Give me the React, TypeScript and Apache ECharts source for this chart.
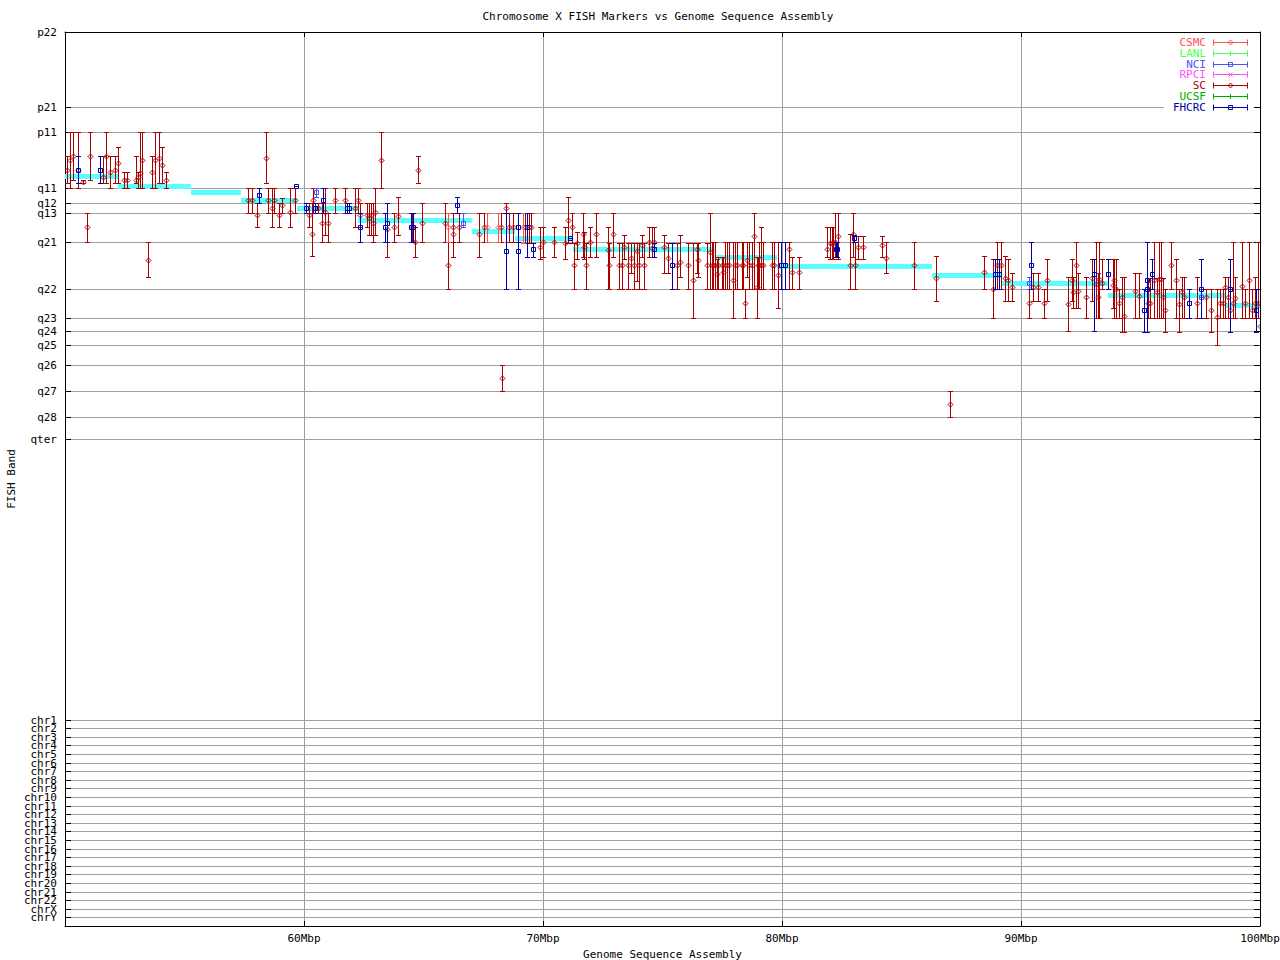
import React, { useEffect, useRef } from 'react';
import * as echarts from 'echarts';

const TITLE = 'Chromosome X FISH Markers vs Genome Sequence Assembly';
const X_NAME = 'Genome Sequence Assembly';
const Y_NAME = 'FISH Band';
const X_MIN = 50;
const X_MAX = 100;
const X_STEP = 10;

// cytogenetic band / chromosome tick labels and their positions on the band scale
const BAND_LABELS = [
  'p22', 'p21', 'p11', 'q11', 'q12', 'q13', 'q21', 'q22', 'q23', 'q24', 'q25', 'q26', 'q27', 'q28', 'qter',
  'chr1', 'chr2', 'chr3', 'chr4', 'chr5', 'chr6', 'chr7', 'chr8', 'chr9', 'chr10', 'chr11', 'chr12',
  'chr13', 'chr14', 'chr15', 'chr16', 'chr17', 'chr18', 'chr19', 'chr20', 'chr21', 'chr22', 'chrX', 'chrY',
];
const BAND_POS = [
  0.7, 75.3, 100.3, 156.3, 171.3, 181.3, 210.3, 257.3, 286.3, 299.3, 313.3, 333.3, 359.3, 385.3, 407.7,
  688.3, 696.3, 705.3, 713.3, 722, 731, 739, 748, 756.3, 765.3, 774.3, 782.3,
  791.3, 799.7, 808.3, 817, 825.3, 834, 842, 851, 860.3, 868.3, 877.3, 885.3,
];
const Y_MAX = 894;

// assembly band steps: [start Mbp, end Mbp, band]
const ASSEMBLY_STEPS = [
  [50.0, 52.22, 144], [52.22, 55.27, 153.7], [55.27, 57.36, 160], [57.36, 59.71, 168],
  [59.71, 62.25, 175.7], [62.25, 67.02, 187.7], [67.02, 68.83, 199], [68.83, 71.26, 205.7],
  [71.26, 77.18, 216.7], [77.18, 79.79, 225], [79.79, 86.28, 233.7], [86.28, 89.19, 243],
  [89.19, 93.64, 250.7], [93.64, 98.54, 263], [98.54, 100, 273],
];

// markers: [Mbp, band top, band mid, band bottom]
const SC = [
  [50.07, 124, 138, 151.3], [50.21, 100.3, 128, 156.3], [50.35, 100.3, 124, 148], [50.56, 100.3, 138, 156.3],
  [50.77, 148, 150.3, 151.3], [50.93, 181.3, 195.3, 210.3], [51.05, 100.3, 124, 148], [51.60, 124, 145.3, 151.3],
  [51.72, 100.3, 124, 151.3], [51.88, 124, 140.3, 156.3], [52.09, 124, 138, 151.3], [52.23, 115.3, 131.3, 151.3],
  [52.47, 139.7, 148, 156.3], [52.61, 139.7, 148, 156.3], [52.97, 124, 148, 151.3], [53.07, 139.7, 144.7, 156.3],
  [53.14, 100.3, 140.7, 156.3], [53.21, 100.3, 128, 156.3], [53.49, 210.3, 228, 245.3], [53.63, 124, 140.3, 156.3],
  [53.77, 100.3, 128, 156.3], [53.95, 100.3, 125.7, 151.3], [54.05, 115.3, 133, 151.3], [54.21, 139.7, 148, 156.3],
  [57.67, 156.3, 168, 181.3], [57.84, 156.3, 168, 181.3], [58.05, 171.3, 183, 195.3], [58.41, 100.3, 126.3, 151.3],
  [58.51, 156.3, 168, 181.3], [58.67, 156.3, 176.3, 195.3], [58.74, 156.3, 168, 181.3], [58.97, 171.3, 183, 195.3],
  [59.09, 165.7, 173, 181.3], [59.41, 156.3, 180.3, 195.3], [59.61, 156.3, 168, 181.3], [60.22, 171.3, 183, 195.3],
  [60.35, 171.3, 202.3, 224], [60.39, 156.3, 168, 181.3], [60.60, 171.3, 175.7, 181.3], [60.74, 171.3, 191.3, 210.3],
  [60.88, 156.3, 180.3, 203], [61.02, 181.3, 190.7, 210.3],
  [61.31, 156.3, 168.3, 181.3], [61.73, 156.3, 168.3, 181.3], [62.15, 156.3, 176.3, 195.3], [62.25, 156.3, 168.3, 181.3],
  [62.36, 171.3, 183, 195.3], [62.62, 171.3, 183, 195.3], [62.73, 171.3, 186.3, 203], [62.79, 171.3, 183, 203],
  [62.90, 171.3, 191.3, 210.3], [62.98, 156.3, 179.7, 203], [63.23, 100.3, 128, 156.3], [63.49, 171.3, 197.3, 224.7],
  [63.77, 181.3, 195.3, 210.3], [63.95, 165.3, 184.3, 203], [64.52, 181.3, 195.3, 210.3], [64.66, 195.3, 210.3, 224.7],
  [64.78, 124.3, 138.3, 151.3], [64.95, 171.3, 191.3, 210.3], [65.91, 171.3, 191.3, 210.3], [66.04, 181.3, 233.3, 257.3],
  [66.22, 181.3, 202, 224.7], [66.25, 181.3, 195.3, 210.3], [66.50, 181.3, 195.3, 210.3], [67.34, 181.3, 202, 224.7],
  [67.54, 181.3, 195.3, 210.3], [68.24, 181.3, 195.3, 210.3], [68.30, 333.3, 346.3, 359], [68.46, 171.3, 176.3, 181.3],
  [68.59, 181.3, 195.3, 210.3], [68.76, 181.3, 195.3, 210.3],
  [69.25, 181.3, 195.3, 210.7], [69.40, 181.3, 195.3, 210.7], [69.50, 181.3, 195.3, 210.7], [69.88, 195.3, 215.3, 227],
  [70.02, 195.3, 210.3, 224.7], [70.48, 195.3, 210.3, 224.7], [70.92, 195.3, 211.3, 227], [71.06, 165.3, 188, 210.7],
  [71.20, 181.3, 195.3, 210.7], [71.31, 210.7, 233.3, 257.3], [71.44, 200.3, 211.3, 227], [71.66, 181.3, 202.3, 224.7],
  [71.73, 200.3, 215.3, 227], [71.80, 210.7, 233.3, 257.3], [71.97, 195.3, 210.3, 224.7], [72.23, 181.3, 202.3, 224.7],
  [72.71, 195.3, 218, 257.3], [72.75, 210.7, 233.3, 257.3], [72.94, 181.3, 202.3, 224.7], [73.20, 210.7, 233.3, 257.3],
  [73.29, 210.7, 233.3, 257.3], [73.40, 203, 215.3, 227], [73.57, 210.7, 233.3, 257.3], [73.68, 210.7, 226.3, 241.3],
  [73.82, 210.7, 233.3, 257.3], [73.92, 210.7, 219, 249], [74.02, 210.7, 233.3, 257.3], [74.13, 203, 213, 224.7],
  [74.24, 210.7, 233.3, 257.3], [74.45, 195.3, 210.3, 224.7], [74.55, 195.3, 216.3, 224.7], [74.66, 195.3, 210.3, 224.7],
  [75.08, 203, 215.3, 241.3], [75.25, 210.7, 226.3, 241.3], [75.59, 210.7, 233.3, 257.3], [75.73, 203, 229.7, 244.7],
  [76.08, 210.7, 233.3, 257.3], [76.29, 210.7, 248.3, 286.3], [76.43, 210.7, 217, 241.3], [76.50, 210.7, 228.3, 245.3],
  [76.85, 210.7, 233.3, 257.3], [76.99, 181.3, 219.7, 257.3],
  [77.06, 210.3, 233.3, 257.3], [77.13, 210.3, 233.3, 257.3], [77.20, 210.3, 233.3, 257.3], [77.27, 227.3, 242.3, 257.3],
  [77.34, 224.7, 233.3, 257.3], [77.48, 224.7, 233.3, 257.3], [77.55, 224.7, 240, 257.3], [77.62, 210.3, 233.3, 257.3],
  [77.69, 210.3, 233.3, 257.3], [77.80, 210.3, 233.3, 257.3], [77.96, 210.3, 248.3, 286.3], [78.03, 210.3, 233.3, 257.3],
  [78.10, 210.3, 233.3, 257.3], [78.31, 210.3, 233.3, 257.3], [78.38, 210.3, 233.3, 257.3], [78.47, 257.3, 271.3, 286.3],
  [78.55, 210.3, 228.3, 244.7], [78.63, 210.3, 233.3, 257.3], [78.73, 210.3, 233.3, 257.3], [78.84, 181.3, 204.3, 257.3],
  [78.94, 224.7, 255, 286.3], [79.01, 224.7, 233.3, 257.3], [79.05, 210.3, 233.3, 257.3], [79.11, 195.3, 233.3, 257.3],
  [79.19, 210.3, 233.3, 257.3], [79.57, 210.3, 233.3, 257.3], [79.67, 210.3, 233.3, 257.3], [79.85, 210.3, 243, 276.3],
  [80.31, 210.3, 217.3, 257.3], [80.41, 224.7, 240.3, 257.3], [80.73, 224.7, 240.3, 257.3], [81.87, 195.3, 217.3, 224.7],
  [82.01, 195.3, 211, 227.3], [82.08, 195.3, 211, 227.3], [82.15, 195.3, 211, 227.3], [82.22, 181.3, 210.3, 224.7],
  [82.36, 181.3, 204.3, 227.3], [82.85, 202, 233.3, 257.3], [82.96, 181.3, 202.3, 224.7], [83.07, 210.3, 233.3, 257.3],
  [83.20, 203.7, 215.3, 227.3], [83.40, 203.7, 215.3, 227.3], [84.20, 203.7, 213.3, 224.7], [84.34, 210.3, 226.3, 241.3],
  [85.54, 210.3, 233.3, 257.3], [86.46, 224.3, 246.3, 269.3], [87.05, 359.3, 372.3, 385.3], [88.47, 224.3, 240.3, 257.3],
  [88.84, 227.3, 257.3, 286.3], [88.98, 210.3, 233.3, 257.3], [89.16, 210.3, 233.3, 257.3], [89.33, 224.3, 246.3, 269.3],
  [89.44, 227.3, 248.3, 269.3], [89.64, 241.3, 255.3, 269.3], [90.35, 257.3, 271.3, 286.3], [90.52, 241.3, 255.3, 269.3],
  [90.70, 241.3, 255.3, 269.3], [90.98, 257.3, 271.3, 286.3], [91.10, 227.3, 248.3, 269.3], [91.98, 245.3, 272.3, 299.3],
  [92.12, 227.3, 248.3, 269.3], [92.16, 245.3, 259.7, 276.3], [92.32, 210.3, 233.3, 276.3], [92.37, 241.3, 259.3, 276.3],
  [92.72, 245.3, 265.3, 286.3], [92.96, 227.3, 246.3, 269.3], [93.14, 210.3, 252.3, 286.3], [93.24, 241.3, 265.3, 286.3],
  [93.28, 210.3, 247.3, 286.3], [93.38, 227.3, 250.7, 257.3], [93.83, 227.3, 253, 276.3], [93.91, 227.3, 248, 286.3],
  [93.98, 227.3, 257, 286.3], [94.08, 257.3, 271.3, 286.3], [94.22, 245.3, 265, 299.7], [94.30, 245.3, 284, 299.7],
  [94.77, 241.3, 259, 286.3], [94.95, 241.3, 264.3, 286.3], [95.33, 246.3, 271.3, 286.3], [95.40, 246.3, 271.3, 286.3],
  [95.58, 210.3, 248, 286.3], [95.68, 246.3, 260.3, 286.3], [95.79, 210.3, 247.3, 286.3], [95.86, 210.3, 247.3, 286.3],
  [95.93, 246.3, 265, 286.3], [96.03, 257.3, 278.3, 299.7], [96.29, 210.3, 233.3, 257.3], [96.49, 227.3, 248.3, 286.3],
  [96.59, 257.3, 272.3, 299.7], [96.75, 245.3, 260.3, 286.3], [96.84, 245.3, 265, 286.3], [97.35, 245.3, 271.3, 286.3],
  [97.76, 257.3, 265, 286.3], [97.95, 257.3, 278.3, 299.7], [98.19, 257.3, 285, 313], [98.33, 257.3, 271.3, 286.3],
  [98.47, 257.3, 271.3, 286.3], [98.54, 245.3, 255.3, 286.3], [98.65, 245.3, 265, 286.3], [98.75, 257.3, 278.3, 299.7],
  [98.85, 210.3, 271.3, 286.3], [98.96, 245.3, 266.3, 286.3], [99.26, 210.3, 254.3, 286.3], [99.39, 257.3, 271.3, 286.3],
  [99.54, 210.3, 248.3, 286.3], [99.66, 257.3, 278.3, 286.3], [99.77, 245.3, 271.3, 286.3], [99.93, 210.3, 271.3, 286.3],
  [99.99, 286.3, 294, 313],
];
const FHCRC = [
  [50.56, 124, 138, 151.3], [51.46, 124, 138, 151.3], [58.13, 156.3, 163, 171.3], [59.68, 153.7, 153.7, 153.7],
  [60.08, 171.3, 175.7, 181.3], [60.46, 171.3, 175.7, 181.3], [60.81, 156.3, 168, 181.3], [61.81, 171.3, 176.3, 181.3],
  [61.90, 171.3, 176.3, 181.3], [62.36, 181.3, 195.3, 210.3], [63.40, 181.3, 195.3, 210.3], [63.49, 171.3, 191.3, 210.3],
  [64.46, 181.3, 195.3, 210.3], [64.57, 181.3, 195.3, 210.3], [66.42, 165.3, 173.3, 181.3], [68.46, 181.3, 219.3, 257.3],
  [68.95, 181.3, 195.3, 210.3], [68.97, 181.3, 219, 257.3], [69.32, 181.3, 195.3, 224.7], [69.60, 210.7, 217.3, 224.7],
  [71.13, 205.7, 205.7, 205.7], [74.66, 210.7, 217, 224.7], [75.41, 210.7, 233.3, 257.3], [79.95, 210.3, 233.3, 257.3],
  [80.13, 210.3, 233.3, 257.3], [82.26, 210.3, 217.3, 224.7], [82.31, 210.3, 217.3, 224.7], [83.03, 203, 206, 210.3],
  [88.91, 227.3, 242.3, 257.3], [89.08, 227.3, 242.3, 257.3], [90.43, 210.3, 233.3, 257.3], [93.07, 227.3, 242.3, 299.3],
  [93.62, 227.3, 242.3, 257.3], [95.16, 257.3, 278.3, 299.7], [95.26, 210.3, 257.3, 299.7], [95.29, 210.3, 248.3, 257.3],
  [95.50, 227.3, 242.3, 257.3], [97.01, 257.3, 271.3, 286.3], [97.55, 227.3, 257.3, 286.3], [98.76, 227.3, 257.3, 299.7],
  [99.85, 257.3, 278.3, 299.7],
];
const CSMC = [
  [66.04, 181.3, 195.3, 210.3], [67.64, 181.3, 195.3, 210.3], [68.13, 181.3, 195.3, 210.3], [69.15, 181.3, 195.3, 210.7],
];
const NCI = [
  [60.50, 156.3, 160.3, 164.7], [66.67, 181.3, 191.3, 195.3], [90.34, 245.3, 250.7, 257.3], [97.55, 257.3, 264.7, 265],
];
const LANL: number[][] = [];
const RPCI: number[][] = [];
const UCSF: number[][] = [];

const SOURCES = [
  { name: 'CSMC', color: '#ff5050', marker: 'diamond', data: CSMC },
  { name: 'LANL', color: '#50ff50', marker: 'tick', data: LANL },
  { name: 'NCI', color: '#5050ff', marker: 'square', data: NCI },
  { name: 'RPCI', color: '#ff50ff', marker: 'cross', data: RPCI },
  { name: 'SC', color: '#aa0000', marker: 'diamond', data: SC },
  { name: 'UCSF', color: '#00aa00', marker: 'tick', data: UCSF },
  { name: 'FHCRC', color: '#0000aa', marker: 'square', data: FHCRC },
];
const DRAW_ORDER = ['SC', 'CSMC', 'LANL', 'UCSF', 'RPCI', 'NCI', 'FHCRC'];

const FONT = 'DejaVu Sans Mono';

function markerEls(kind: string, cx: number, cy: number, color: string): any[] {
  const st = { stroke: color, lineWidth: 1, fill: 'none' };
  if (kind === 'diamond') {
    return [{ type: 'polygon', shape: { points: [[cx, cy - 2.5], [cx + 2.5, cy], [cx, cy + 2.5], [cx - 2.5, cy]] }, style: st }];
  }
  if (kind === 'square') {
    return [{ type: 'rect', shape: { x: cx - 2, y: cy - 2, width: 4, height: 4 }, style: st }];
  }
  if (kind === 'cross') {
    return [
      { type: 'line', shape: { x1: cx - 2, y1: cy - 2, x2: cx + 2, y2: cy + 2 }, style: st },
      { type: 'line', shape: { x1: cx - 2, y1: cy + 2, x2: cx + 2, y2: cy - 2 }, style: st },
    ];
  }
  return [{ type: 'line', shape: { x1: cx, y1: cy - 2.5, x2: cx, y2: cy + 2.5 }, style: st }];
}

function errorRenderer(color: string, kind: string) {
  return (_params: any, api: any) => {
    const x = api.value(0);
    const pa = api.coord([x, api.value(1)]);
    const pm = api.coord([x, api.value(2)]);
    const pb = api.coord([x, api.value(3)]);
    const cx = Math.round(pa[0]) + 0.5;
    const ya = Math.round(pa[1]) + 0.5;
    const yb = Math.round(pb[1]) + 0.5;
    const ym = Math.round(pm[1]) + 0.5;
    const st = { stroke: color, lineWidth: 1, fill: 'none' };
    return {
      type: 'group',
      children: [
        { type: 'line', shape: { x1: cx, y1: ya, x2: cx, y2: yb }, style: st },
        { type: 'line', shape: { x1: cx - 2.5, y1: ya, x2: cx + 2.5, y2: ya }, style: st },
        { type: 'line', shape: { x1: cx - 2.5, y1: yb, x2: cx + 2.5, y2: yb }, style: st },
        ...markerEls(kind, cx, ym, color),
      ],
    };
  };
}

function bandLabel(v: number): string {
  const i = BAND_POS.findIndex((p) => Math.abs(p - v) < 0.01);
  return i >= 0 ? BAND_LABELS[i] : '';
}

function buildOption(): any {
  // the chrX tick sits on its own axis so that the axis' end-label overlap check keeps every label
  const chrXPos = BAND_POS[BAND_LABELS.indexOf('chrX')];
  const mainPos = BAND_POS.filter((p) => p !== chrXPos);

  const legendX0 = 1213;
  const legendX1 = 1247;
  const legendEls: any[] = [
    { type: 'rect', shape: { x: 1164, y: 36, width: 90, height: 76 }, style: { fill: '#ffffff' }, z: 90 },
  ];
  SOURCES.forEach((s, i) => {
    const y = Math.round(41.7 + i * 10.93) + 0.5;
    const st = { stroke: s.color, lineWidth: 1 };
    legendEls.push(
      { type: 'text', x: 1206, y, z: 100, style: { text: s.name, fill: s.color, font: `11px "${FONT}"`, align: 'right', verticalAlign: 'middle' } },
      { type: 'line', z: 100, shape: { x1: legendX0 + 0.5, y1: y, x2: legendX1 + 0.5, y2: y }, style: st },
      { type: 'line', z: 100, shape: { x1: legendX0 + 0.5, y1: y - 3, x2: legendX0 + 0.5, y2: y + 3 }, style: st },
      { type: 'line', z: 100, shape: { x1: legendX1 + 0.5, y1: y - 3, x2: legendX1 + 0.5, y2: y + 3 }, style: st },
      ...markerEls(s.marker, 1230.5, y, s.color).map((e) => ({ ...e, z: 100 })),
    );
  });

  const axisFont = { fontFamily: FONT, fontSize: 11, color: '#000' };
  const series: any[] = [
    {
      type: 'custom',
      name: 'assembly',
      silent: true,
      clip: true,
      data: ASSEMBLY_STEPS,
      renderItem: (_p: any, api: any) => {
        const a = api.coord([api.value(0), api.value(2)]);
        const b = api.coord([api.value(1), api.value(2)]);
        return { type: 'rect', shape: { x: a[0], y: Math.round(a[1]) - 2, width: b[0] - a[0], height: 5 }, style: { fill: '#5cffff' } };
      },
    },
  ];
  DRAW_ORDER.forEach((n) => {
    const s = SOURCES.find((q) => q.name === n)!;
    series.push({
      type: 'custom',
      name: s.name,
      silent: true,
      clip: true,
      data: s.data,
      renderItem: errorRenderer(s.color, s.marker),
    });
  });

  const lineStyle = { show: true, onZero: false, lineStyle: { color: '#000', width: 1 } };
  const grid = { color: '#a0a0a0', width: 1 };

  return {
    animation: false,
    backgroundColor: '#ffffff',
    textStyle: { fontFamily: FONT },
    grid: { left: 65, right: 20, top: 32, bottom: 34, containLabel: false, outerBoundsMode: 'none' },
    graphic: [
      { type: 'text', x: 658, y: 16, style: { text: TITLE, fill: '#000', font: `11px "${FONT}"`, align: 'center', verticalAlign: 'middle' } },
      ...legendEls,
    ],
    xAxis: [
      {
        type: 'value', position: 'bottom', min: X_MIN, max: X_MAX, interval: X_STEP,
        name: X_NAME, nameLocation: 'middle', nameGap: 22,
        nameTextStyle: axisFont,
        axisLine: lineStyle,
        axisTick: { show: true, inside: true, length: 5, lineStyle: { color: '#000' } },
        axisLabel: { ...axisFont, margin: 7, showMaxLabel: true, formatter: (v: number) => (v === X_MIN ? '' : `${v}Mbp`) },
        splitLine: { show: true, lineStyle: grid },
      },
      {
        type: 'value', position: 'top', min: X_MIN, max: X_MAX, interval: X_STEP,
        axisLine: lineStyle,
        axisTick: { show: true, inside: true, length: 5, lineStyle: { color: '#000' } },
        axisLabel: { show: false },
        splitLine: { show: false },
      },
    ],
    yAxis: [
      {
        type: 'value', position: 'left', min: 0, max: Y_MAX, inverse: true,
        name: Y_NAME, nameLocation: 'middle', nameGap: 48, nameRotate: 90, nameMoveOverlap: false,
        nameTextStyle: axisFont,
        axisLine: lineStyle,
        axisTick: { show: true, inside: true, length: 6, lineStyle: { color: '#000' }, customValues: mainPos },
        axisLabel: { ...axisFont, margin: 8, customValues: mainPos, formatter: bandLabel, hideOverlap: false },
        splitLine: { show: true, lineStyle: grid },
      },
      {
        type: 'value', position: 'right', min: 0, max: Y_MAX, inverse: true,
        axisLine: lineStyle,
        axisTick: { show: true, inside: true, length: 6, lineStyle: { color: '#000' }, customValues: BAND_POS },
        axisLabel: { show: false },
        splitLine: { show: false },
      },
      {
        type: 'value', position: 'left', offset: 0, min: 0, max: Y_MAX, inverse: true,
        axisLine: { show: false, onZero: false },
        axisTick: { show: true, inside: true, length: 6, lineStyle: { color: '#000' }, customValues: [chrXPos] },
        axisLabel: { ...axisFont, margin: 8, customValues: [chrXPos], formatter: bandLabel, hideOverlap: false },
        splitLine: { show: true, lineStyle: grid },
      },
    ],
    series,
  };
}

export default function App() {
  const ref = useRef<HTMLDivElement>(null);
  useEffect(() => {
    document.body.style.margin = '0';
    if (!ref.current) return;
    const chart = echarts.init(ref.current, null, { renderer: 'svg' });
    chart.setOption(buildOption());
    return () => chart.dispose();
  }, []);
  return <div ref={ref} style={{ position: 'absolute', left: 0, top: 0, width: 1280, height: 960, background: '#fff' }} />;
}
